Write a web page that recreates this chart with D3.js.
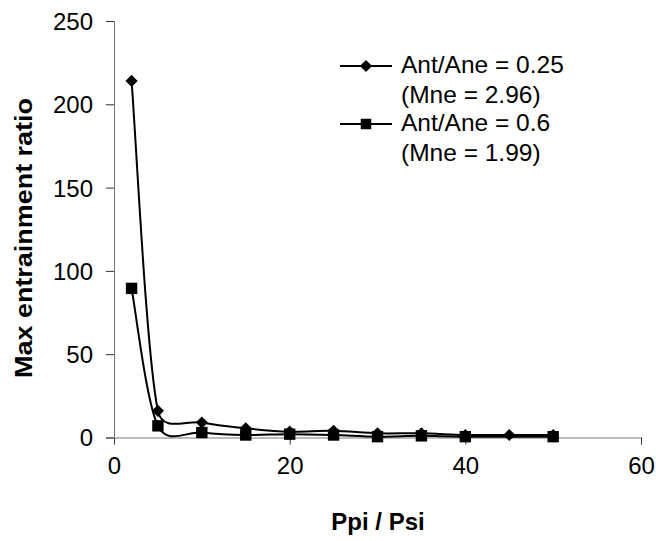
<!DOCTYPE html>
<html>
<head>
<meta charset="utf-8">
<script src="https://cdn.jsdelivr.net/npm/d3@7"></script>
<style>
  html, body { margin: 0; padding: 0; background: #fff; }
  text { font-family: "Liberation Sans", Arial, sans-serif; }
</style>
</head>
<body>
<svg id="chart" width="656" height="541"></svg>
<script>
// ---- data ----
const xDiamond = [2, 5, 10, 15, 20, 25, 30, 35, 40, 45, 50];
const yDiamond = [214, 16, 9, 5.5, 3.5, 4, 2.5, 2.5, 1.5, 1.5, 1.5];
const xSquare  = [2, 5, 10, 15, 20, 25, 30, 35, 40, 50];
const ySquare  = [89.5, 7, 3, 1.5, 2, 1.5, 0.5, 1, 0.5, 0.5];
const xTicks = [0, 20, 40, 60];
const yTicks = [0, 50, 100, 150, 200, 250];
const legendLabels = [["Ant/Ane = 0.25", "(Mne = 2.96)"], ["Ant/Ane = 0.6", "(Mne = 1.99)"]];
const xTitle = "Ppi / Psi";
const yTitle = "Max entrainment ratio";

const svg = d3.select("#chart");
const x = d3.scaleLinear().domain([0, 60]).range([114, 641]);
const y = d3.scaleLinear().domain([0, 250]).range([437.5, 21]);

// axes
const xAxis = svg.append("g").attr("transform", `translate(0,${y(0)})`)
  .call(d3.axisBottom(x).tickValues(xTicks).tickSize(7).tickPadding(8).tickFormat(d3.format("d")));
const yAxis = svg.append("g").attr("transform", `translate(${x(0)},0)`)
  .call(d3.axisLeft(y).tickValues(yTicks).tickSize(8).tickPadding(13).tickFormat(d3.format("d")));
[xAxis, yAxis].forEach(g => {
  g.select(".domain").attr("stroke", "#777").attr("stroke-width", 1);
  g.selectAll(".tick line").attr("stroke", "#333");
  g.selectAll(".tick text").attr("font-size", 24).attr("fill", "#000")
    .attr("font-family", '"Liberation Sans", Arial, sans-serif');
});
xAxis.selectAll(".tick text").attr("dy", "0.9em");
yAxis.selectAll(".tick text").attr("dy", "0.35em");

// titles
svg.append("text").attr("x", 378).attr("y", 530).attr("text-anchor", "middle")
  .attr("font-size", 24).attr("font-weight", "bold").text(xTitle);
svg.append("text").attr("transform", `translate(32,238) rotate(-90)`).attr("text-anchor", "middle")
  .attr("font-size", 24).attr("font-weight", "bold")
  .attr("textLength", 280).attr("lengthAdjust", "spacingAndGlyphs").text(yTitle);

// Excel-like smoothed line: Bezier with tension 1/6, capped at half the segment length
function smoothPath(pts) {
  const p = d3.path();
  const dist = (a, b) => Math.hypot(b[0] - a[0], b[1] - a[1]);
  p.moveTo(pts[0][0], pts[0][1]);
  for (let i = 0; i < pts.length - 1; i++) {
    const P0 = pts[Math.max(0, i - 1)], P1 = pts[i], P2 = pts[i + 1], P3 = pts[Math.min(pts.length - 1, i + 2)];
    const d12 = dist(P1, P2), d02 = dist(P0, P2), d13 = dist(P1, P3);
    const f1 = d02 > 0 ? Math.min(1 / 6, d12 / (2 * d02)) : 0;
    const f2 = d13 > 0 ? Math.min(1 / 6, d12 / (2 * d13)) : 0;
    const c1 = [P1[0] + (P2[0] - P0[0]) * f1, P1[1] + (P2[1] - P0[1]) * f1];
    const c2 = [P2[0] - (P3[0] - P1[0]) * f2, P2[1] - (P3[1] - P1[1]) * f2];
    p.bezierCurveTo(c1[0], c1[1], c2[0], c2[1], P2[0], P2[1]);
  }
  return p.toString();
}

const dDiamond = xDiamond.map((v, i) => [v, yDiamond[i]]);
const dSquare = xSquare.map((v, i) => [v, ySquare[i]]);
const diamondSym = d3.symbol().type(d3.symbolDiamond2).size(95);
const squareSym = d3.symbol().type(d3.symbolSquare).size(130);
const squareLeg = d3.symbol().type(d3.symbolSquare).size(110);

[dDiamond, dSquare].forEach((data, k) => {
  svg.append("path").datum(data).attr("d", d => smoothPath(d.map(q => [x(q[0]), y(q[1])])))
    .attr("fill", "none").attr("stroke", "#000").attr("stroke-width", 2);
  svg.append("g").selectAll("path").data(data).join("path")
    .attr("transform", d => `translate(${x(d[0])},${y(d[1])})`)
    .attr("d", k === 0 ? diamondSym : squareSym)
    .attr("fill", "#000");
});

// legend
const legY = [66, 124];
legendLabels.forEach((lab, k) => {
  const g = svg.append("g");
  g.append("line").attr("x1", 340).attr("x2", 392).attr("y1", legY[k]).attr("y2", legY[k])
    .attr("stroke", "#000").attr("stroke-width", 2);
  g.append("path").attr("transform", `translate(366,${legY[k]})`)
    .attr("d", k === 0 ? diamondSym : squareLeg).attr("fill", "#000");
  g.append("text").attr("x", 401).attr("y", legY[k] + 7).attr("font-size", 24.5).text(lab[0]);
  g.append("text").attr("x", 401).attr("y", legY[k] + 37).attr("font-size", 24.5).text(lab[1]);
});
</script>
</body>
</html>
